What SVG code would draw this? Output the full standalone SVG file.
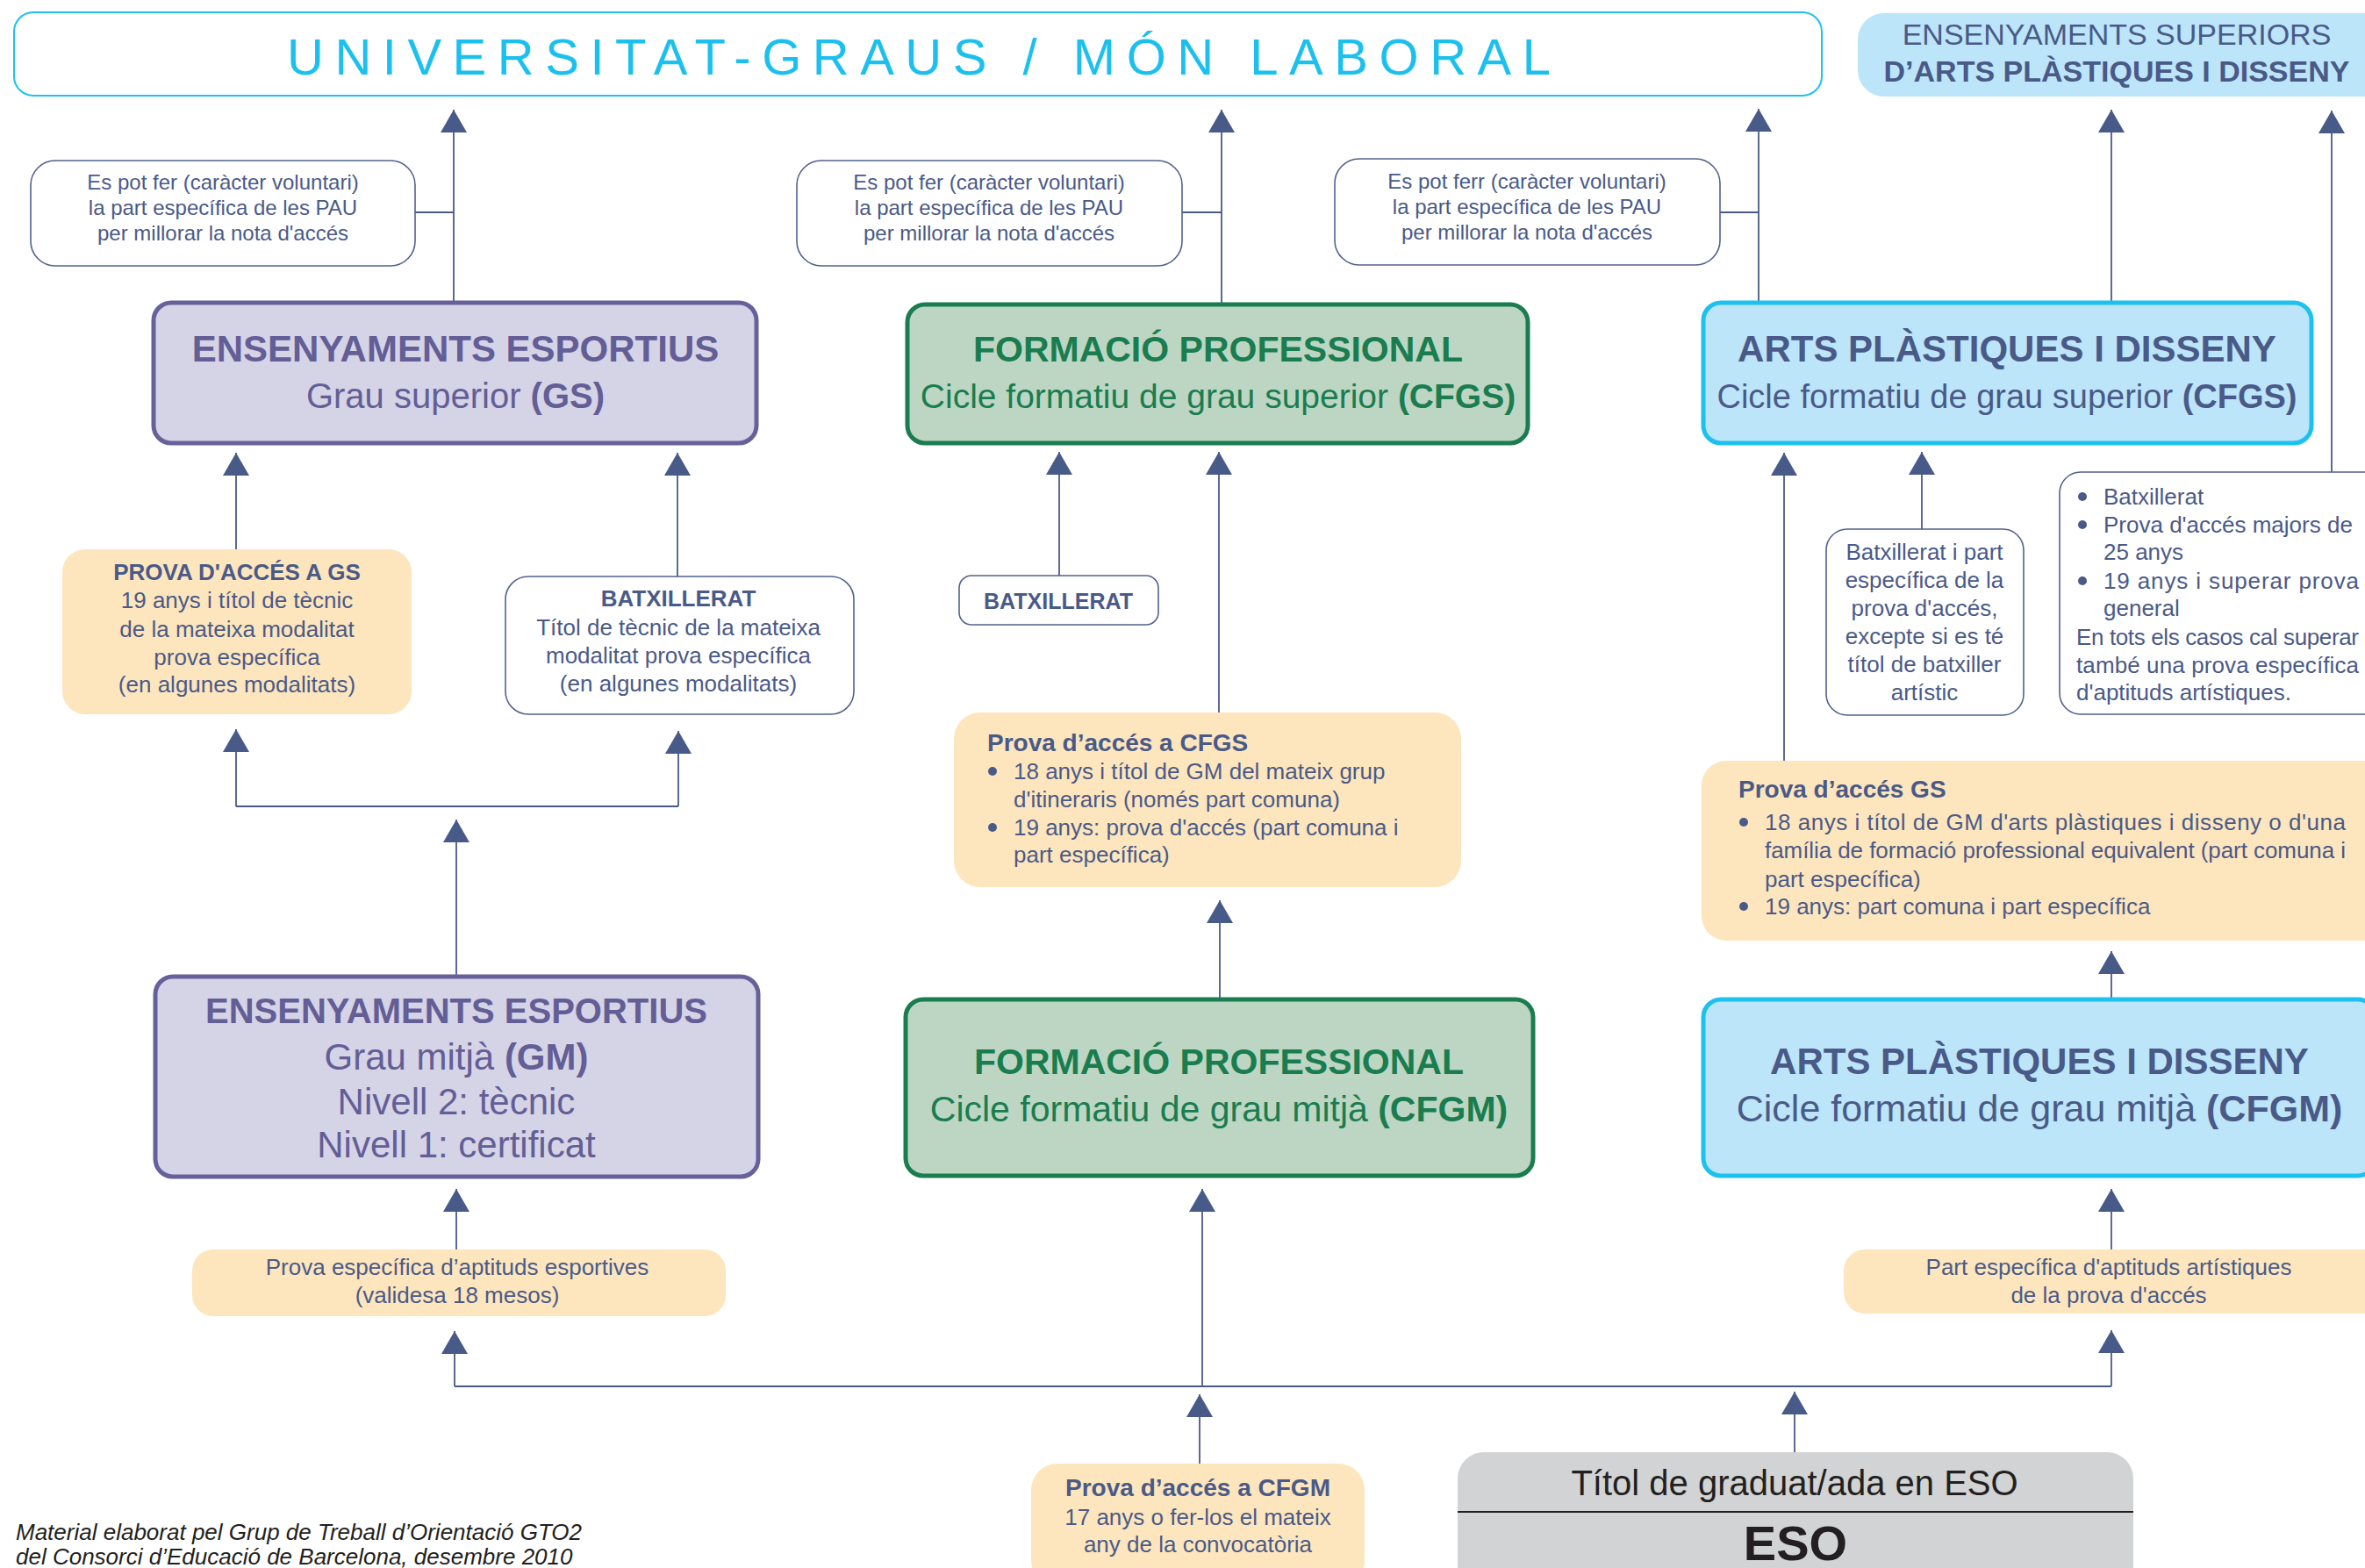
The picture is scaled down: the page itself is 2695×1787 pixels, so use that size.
<svg xmlns="http://www.w3.org/2000/svg" width="2695" height="1787" viewBox="0 0 2695 1787">
<defs>
<marker id="ah" markerUnits="userSpaceOnUse" markerWidth="26" markerHeight="30" refX="26" refY="15" orient="auto" viewBox="0 0 26 30"><path d="M0,0 L26,15 L0,30 Z" fill="#485a88"/></marker>
<style>
text{font-family:"Liberation Sans",Arial,sans-serif;}
.c{stroke:#4a5a88;stroke-width:1.8;fill:none;}
.a{marker-end:url(#ah);}
.note{fill:#fff;stroke:#52628f;stroke-width:1.6;}
.yel{fill:#fde6bd;}
.pur{fill:#d5d3e6;stroke:#66619a;stroke-width:5;}
.grn{fill:#bdd6c4;stroke:#1a7d4f;stroke-width:5;}
.cya{fill:#bce5f9;stroke:#1dc1f0;stroke-width:5;}
.tb{fill:#4a5a88;}
.tp{fill:#635e96;}
.tg{fill:#1a7d4f;}
.b{font-weight:bold;}
.m{text-anchor:middle;}
.dot{fill:#4a5a88;}
</style>
</defs>
<rect width="2695" height="1787" fill="#fff"/>

<g id="connectors">
<path class="c a" d="M517,345 V125"/>
<path class="c" d="M473,242 H517"/>
<path class="c a" d="M1392,347 V125"/>
<path class="c" d="M1347,242 H1392"/>
<path class="c a" d="M2004,345 V124"/>
<path class="c" d="M1960,242 H2004"/>
<path class="c a" d="M2406,345 V125"/>
<path class="c a" d="M2657,538 V126"/>
<path class="c a" d="M269,626 V516"/>
<path class="c a" d="M772,657 V516"/>
<path class="c a" d="M520,1113 V934"/>
<path class="c" d="M269,919 H773"/>
<path class="c a" d="M269,919 V831"/>
<path class="c a" d="M773,919 V833"/>
<path class="c a" d="M1207,656 V515"/>
<path class="c a" d="M1389,812 V515"/>
<path class="c a" d="M1390,1139 V1026"/>
<path class="c a" d="M2033,867 V516"/>
<path class="c a" d="M2190,603 V515"/>
<path class="c a" d="M2406,1139 V1084"/>
<path class="c a" d="M520,1424 V1355"/>
<path class="c a" d="M1370,1580 V1355"/>
<path class="c a" d="M2406,1424 V1355"/>
<path class="c" d="M518,1580 H2406"/>
<path class="c a" d="M518,1580 V1517"/>
<path class="c a" d="M2406,1580 V1516"/>
<path class="c a" d="M1367,1668 V1589"/>
<path class="c a" d="M2045,1656 V1586"/>
</g>

<g id="universitat">
<rect x="16" y="14" width="2060" height="95" rx="22" fill="#fff" stroke="#1dc1f0" stroke-width="2"/>
<text x="327" y="85" font-size="58" fill="#1cc0ee" textLength="1440" lengthAdjust="spacing">UNIVERSITAT-GRAUS / MÓN LABORAL</text>
</g>

<g id="ens-superiors">
<rect x="2117" y="15" width="640" height="95" rx="30" fill="#bce5f9"/>
<text class="tb m" x="2412" y="51" font-size="34">ENSENYAMENTS SUPERIORS</text>
<text class="tb m b" x="2412" y="93" font-size="34">D’ARTS PLÀSTIQUES I DISSENY</text>
</g>

<g id="note1">
<rect class="note" x="35" y="183" width="438" height="120" rx="28"/>
<text class="tb m" font-size="24"><tspan x="254" y="216">Es pot fer (caràcter voluntari)</tspan><tspan x="254" y="245">la part específica de les PAU</tspan><tspan x="254" y="274">per millorar la nota d'accés</tspan></text>
</g>
<g id="note2">
<rect class="note" x="908" y="183" width="439" height="120" rx="28"/>
<text class="tb m" font-size="24"><tspan x="1127" y="216">Es pot fer (caràcter voluntari)</tspan><tspan x="1127" y="245">la part específica de les PAU</tspan><tspan x="1127" y="274">per millorar la nota d'accés</tspan></text>
</g>
<g id="note3">
<rect class="note" x="1521" y="181" width="439" height="121" rx="28"/>
<text class="tb m" font-size="24"><tspan x="1740" y="215">Es pot ferr (caràcter voluntari)</tspan><tspan x="1740" y="244">la part específica de les PAU</tspan><tspan x="1740" y="273">per millorar la nota d'accés</tspan></text>
</g>

<g id="ee-gs">
<rect class="pur" x="175" y="345" width="687" height="160" rx="20"/>
<text class="tp m b" x="519" y="412" font-size="42">ENSENYAMENTS ESPORTIUS</text>
<text class="tp m" x="519" y="465" font-size="40">Grau superior <tspan class="b">(GS)</tspan></text>
</g>

<g id="fp-cfgs">
<rect class="grn" x="1034" y="347" width="707" height="158" rx="20"/>
<text class="tg m b" x="1388" y="412" font-size="41">FORMACIÓ PROFESSIONAL</text>
<text class="tg m" x="1388" y="465" font-size="39">Cicle formatiu de grau superior <tspan class="b">(CFGS)</tspan></text>
</g>

<g id="apd-cfgs">
<rect class="cya" x="1941" y="345" width="693" height="160" rx="20"/>
<text class="tb m b" x="2287" y="412" font-size="42">ARTS PLÀSTIQUES I DISSENY</text>
<text class="tb m" x="2287" y="465" font-size="38">Cicle formatiu de grau superior <tspan class="b">(CFGS)</tspan></text>
</g>

<g id="prova-gs-ee">
<rect class="yel" x="71" y="626" width="398" height="188" rx="26"/>
<text class="tb m b" x="270" y="661" font-size="26">PROVA D'ACCÉS A GS</text>
<text class="tb m" font-size="26"><tspan x="270" y="693">19 anys i títol de tècnic</tspan><tspan x="270" y="726">de la mateixa modalitat</tspan><tspan x="270" y="758">prova específica</tspan><tspan x="270" y="789">(en algunes modalitats)</tspan></text>
</g>

<g id="batx-ee">
<rect class="note" x="576" y="657" width="397" height="157" rx="26"/>
<text class="tb m b" x="773" y="691" font-size="26">BATXILLERAT</text>
<text class="tb m" font-size="26"><tspan x="773" y="724">Títol de tècnic de la mateixa</tspan><tspan x="773" y="756">modalitat prova específica</tspan><tspan x="773" y="788">(en algunes modalitats)</tspan></text>
</g>

<g id="batx-fp">
<rect class="note" x="1093" y="656" width="227" height="56" rx="14"/>
<text class="tb m b" x="1206" y="694" font-size="25">BATXILLERAT</text>
</g>

<g id="prova-cfgs">
<rect class="yel" x="1087" y="812" width="578" height="199" rx="30"/>
<text class="tb b" x="1125" y="856" font-size="28">Prova d’accés a CFGS</text>
<circle class="dot" cx="1131" cy="879" r="5"/>
<circle class="dot" cx="1131" cy="943" r="5"/>
<text class="tb" font-size="26"><tspan x="1155" y="888">18 anys i títol de GM del mateix grup</tspan><tspan x="1155" y="920">d'itineraris (només part comuna)</tspan><tspan x="1155" y="952">19 anys: prova d'accés (part comuna i</tspan><tspan x="1155" y="983">part específica)</tspan></text>
</g>

<g id="batx-apd">
<rect class="note" x="2081" y="603" width="225" height="212" rx="24"/>
<text class="tb m" font-size="26"><tspan x="2193" y="638">Batxillerat i part</tspan><tspan x="2193" y="670">específica de la</tspan><tspan x="2193" y="702">prova d'accés,</tspan><tspan x="2193" y="734">excepte si es té</tspan><tspan x="2193" y="766">títol de batxiller</tspan><tspan x="2193" y="798">artístic</tspan></text>
</g>

<g id="majors-apd">
<rect class="note" x="2347" y="538" width="380" height="276" rx="24"/>
<circle class="dot" cx="2373" cy="566" r="5"/>
<circle class="dot" cx="2373" cy="598" r="5"/>
<circle class="dot" cx="2373" cy="662" r="5"/>
<text class="tb" font-size="26"><tspan x="2397" y="575">Batxillerat</tspan><tspan x="2397" y="607">Prova d'accés majors de</tspan><tspan x="2397" y="638">25 anys</tspan></text>
<text class="tb" font-size="26" x="2397" y="671" textLength="291" lengthAdjust="spacing">19 anys i superar prova</text>
<text class="tb" font-size="26" x="2397" y="702">general</text>
<text class="tb" font-size="26" x="2366" y="735" textLength="322" lengthAdjust="spacing">En tots els casos cal superar</text>
<text class="tb" font-size="26" x="2366" y="767" textLength="322" lengthAdjust="spacing">també una prova específica</text>
<text class="tb" font-size="26" x="2366" y="798">d'aptituds artístiques.</text>
</g>

<g id="prova-gs-apd">
<rect class="yel" x="1939" y="867" width="800" height="205" rx="28"/>
<text class="tb b" x="1981" y="909" font-size="28">Prova d’accés GS</text>
<circle class="dot" cx="1987" cy="937" r="5"/>
<circle class="dot" cx="1987" cy="1033" r="5"/>
<text class="tb" font-size="26" x="2011" y="946" textLength="662" lengthAdjust="spacing">18 anys i títol de GM d'arts plàstiques i disseny o d'una</text>
<text class="tb" font-size="26" x="2011" y="978" textLength="662" lengthAdjust="spacing">família de formació professional equivalent (part comuna i</text>
<text class="tb" font-size="26" x="2011" y="1011">part específica)</text>
<text class="tb" font-size="26" x="2011" y="1042">19 anys: part comuna i part específica</text>
</g>

<g id="ee-gm">
<rect class="pur" x="177" y="1113" width="687" height="228" rx="20"/>
<text class="tp m b" x="520" y="1166" font-size="40">ENSENYAMENTS ESPORTIUS</text>
<text class="tp m" x="520" y="1219" font-size="42">Grau mitjà <tspan class="b">(GM)</tspan></text>
<text class="tp m" x="520" y="1270" font-size="42">Nivell 2: tècnic</text>
<text class="tp m" x="520" y="1319" font-size="42">Nivell 1: certificat</text>
</g>

<g id="fp-cfgm">
<rect class="grn" x="1032" y="1139" width="715" height="201" rx="20"/>
<text class="tg m b" x="1389" y="1224" font-size="41">FORMACIÓ PROFESSIONAL</text>
<text class="tg m" x="1389" y="1278" font-size="41">Cicle formatiu de grau mitjà <tspan class="b">(CFGM)</tspan></text>
</g>

<g id="apd-cfgm">
<rect class="cya" x="1941" y="1139" width="766" height="201" rx="20"/>
<text class="tb m b" x="2324" y="1224" font-size="42">ARTS PLÀSTIQUES I DISSENY</text>
<text class="tb m" x="2324" y="1278" font-size="43">Cicle formatiu de grau mitjà <tspan class="b">(CFGM)</tspan></text>
</g>

<g id="prova-esp-ee">
<rect class="yel" x="219" y="1424" width="608" height="76" rx="24"/>
<text class="tb m" font-size="26"><tspan x="521" y="1453">Prova específica d’aptituds esportives</tspan><tspan x="521" y="1485">(validesa 18 mesos)</tspan></text>
</g>

<g id="part-esp-apd">
<rect class="yel" x="2101" y="1424" width="640" height="73" rx="24"/>
<text class="tb m" font-size="26"><tspan x="2403" y="1453">Part específica d'aptituds artístiques</tspan><tspan x="2403" y="1485">de la prova d'accés</tspan></text>
</g>

<g id="prova-cfgm">
<rect class="yel" x="1175" y="1668" width="380" height="140" rx="30"/>
<text class="tb m b" x="1365" y="1705" font-size="28">Prova d’accés a CFGM</text>
<text class="tb m" font-size="26"><tspan x="1365" y="1738">17 anys o fer-los el mateix</tspan><tspan x="1365" y="1769">any de la convocatòria</tspan></text>
</g>

<g id="eso">
<rect x="1661" y="1655" width="770" height="160" rx="30" fill="#d1d3d4"/>
<line x1="1661" y1="1723" x2="2431" y2="1723" stroke="#231f20" stroke-width="2"/>
<text class="m" x="2045" y="1704" font-size="40" fill="#231f20">Títol de graduat/ada en ESO</text>
<text class="m b" x="2046" y="1778" font-size="56" fill="#231f20">ESO</text>
</g>

<g id="footer">
<text x="18" y="1755" font-size="26" font-style="italic" fill="#231f20">Material elaborat pel Grup de Treball d’Orientació GTO2</text>
<text x="18" y="1783" font-size="26" font-style="italic" fill="#231f20">del Consorci d’Educació de Barcelona, desembre 2010</text>
</g>
</svg>
